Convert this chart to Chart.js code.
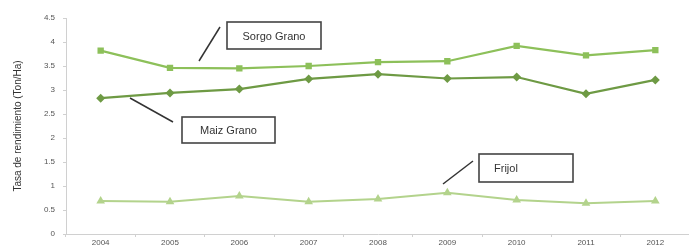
<!DOCTYPE html>
<html>
<head>
<meta charset="utf-8">
<script src="https://cdn.jsdelivr.net/npm/chart.js@4/dist/chart.umd.min.js"></script>
<style>
  html, body { margin: 0; padding: 0; background: #fff; overflow: hidden; }
  #wrap { width: 695px; height: 249px; position: relative; }
</style>
</head>
<body>
<div id="wrap"><canvas id="chart"></canvas></div>
<script>
const years = ['2004', '2005', '2006', '2007', '2008', '2009', '2010', '2011', '2012'];
const sorgoGrano = [3.82, 3.46, 3.45, 3.5, 3.58, 3.6, 3.92, 3.72, 3.83];
const maizGrano = [2.83, 2.94, 3.02, 3.23, 3.33, 3.24, 3.27, 2.92, 3.21];
const frijol = [0.69, 0.67, 0.79, 0.67, 0.73, 0.86, 0.71, 0.64, 0.69];
const yTicks = [0, 0.5, 1, 1.5, 2, 2.5, 3, 3.5, 4, 4.5];

// etiquetas con recuadro (posicion de la caja y de la linea guia)
const callouts = [
    { text: 'Sorgo Grano', box: [227, 22, 94, 27], from: [220, 27], to: [199, 61] },
    { text: 'Maiz Grano', box: [182, 117, 93, 26], from: [173, 122], to: [130, 98] },
    { text: 'Frijol', box: [479, 154, 94, 28], from: [473, 161], to: [443, 184], left: true }
];

const calloutPlugin = {
    id: 'callouts',
    afterDatasetsDraw(chart) {
        const ctx = chart.ctx;
        ctx.save();
        callouts.forEach(c => {
            const [x, y, w, h] = c.box;
            ctx.strokeStyle = '#333';
            ctx.lineWidth = 1.5;
            ctx.beginPath();
            ctx.moveTo(c.from[0], c.from[1]);
            ctx.lineTo(c.to[0], c.to[1]);
            ctx.stroke();
            ctx.fillStyle = '#fff';
            ctx.fillRect(x, y, w, h);
            ctx.lineWidth = 1.6;
            ctx.strokeStyle = '#444';
            ctx.strokeRect(x, y, w, h);
            ctx.fillStyle = '#333';
            ctx.font = '11px "Liberation Sans Narrow", "Liberation Sans", Arial, sans-serif';
            ctx.textBaseline = 'middle';
            if (c.left) {
                ctx.textAlign = 'left';
                ctx.fillText(c.text, x + 15, y + h / 2 + 1);
            } else {
                ctx.textAlign = 'center';
                ctx.fillText(c.text, x + w / 2, y + h / 2 + 1);
            }
        });
        ctx.restore();
    }
};

const ctx = document.getElementById('chart').getContext('2d');
new Chart(ctx, {
    type: 'line',
    data: {
        labels: years,
        datasets: [
            {
                label: 'Sorgo Grano',
                data: sorgoGrano,
                borderColor: '#8dc05a',
                backgroundColor: '#8dc05a',
                borderWidth: 2.2,
                pointStyle: 'rect',
                pointRadius: 4.5,
                pointBorderWidth: 0
            },
            {
                label: 'Maiz Grano',
                data: maizGrano,
                borderColor: '#6e9a44',
                backgroundColor: '#6e9a44',
                borderWidth: 2.2,
                pointStyle: 'rectRot',
                pointRadius: 4.5,
                pointBorderWidth: 0
            },
            {
                label: 'Frijol',
                data: frijol,
                borderColor: '#b3d38c',
                backgroundColor: '#b3d38c',
                borderWidth: 2,
                pointStyle: 'triangle',
                pointRadius: 5,
                pointBorderWidth: 0
            }
        ]
    },
    options: {
        responsive: true,
        maintainAspectRatio: false,
        animation: false,
        layout: { padding: { top: 18, right: 0, left: 0, bottom: 0 } },
        plugins: {
            legend: { display: false },
            tooltip: { enabled: false }
        },
        scales: {
            x: {
                offset: true,
                grid: {
                    offset: true,
                    drawOnChartArea: false,
                    drawTicks: true,
                    tickLength: 3,
                    color: '#d0d0d0'
                },
                border: { color: '#d0d0d0', width: 1 },
                ticks: {
                    color: '#555',
                    padding: 1,
                    maxRotation: 0,
                    font: { family: '"Liberation Sans Narrow", "Liberation Sans", sans-serif', size: 8 }
                },
                afterFit(scale) {
                    scale.height = 15;
                    scale.paddingLeft = 0;
                    scale.paddingRight = 0;
                }
            },
            y: {
                min: 0,
                max: 4.5,
                afterBuildTicks(scale) { scale.ticks = yTicks.map(v => ({ value: v })); },
                grid: {
                    drawOnChartArea: false,
                    tickLength: 3,
                    color: '#d0d0d0'
                },
                border: { color: '#d0d0d0', width: 1 },
                ticks: {
                    color: '#555',
                    padding: 8,
                    callback: v => String(v),
                    font: { family: '"Liberation Sans Narrow", "Liberation Sans", sans-serif', size: 8 }
                },
                title: {
                    display: true,
                    text: 'Tasa de rendimiento (Ton/Ha)',
                    color: '#333',
                    padding: { top: 12, bottom: 0 },
                    font: { family: '"Liberation Sans Narrow", "Liberation Sans", sans-serif', size: 10 }
                },
                afterFit(scale) { scale.width = 66; }
            }
        }
    },
    plugins: [calloutPlugin]
});
</script>
</body>
</html>
